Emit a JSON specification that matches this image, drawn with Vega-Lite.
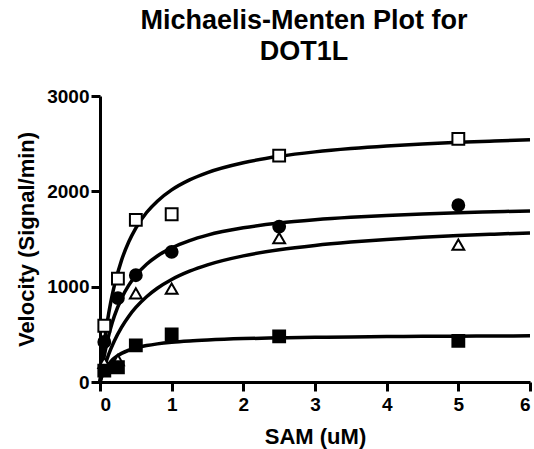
{
  "$schema": "https://vega.github.io/schema/vega-lite/v6.json",
  "width": 430,
  "height": 286,
  "autosize": {"type": "none"},
  "padding": {"left": 100, "top": 96, "right": 4, "bottom": 67},
  "background": "white",
  "title": {
    "text": ["Michaelis-Menten Plot for", "DOT1L"],
    "font": "Liberation Sans",
    "fontWeight": "bold",
    "fontSize": 27,
    "lineHeight": 31,
    "color": "black",
    "anchor": "middle",
    "offset": 21,
    "dx": -11
  },
  "config": {
    "view": {"stroke": null},
    "axis": {
      "grid": false,
      "domainColor": "black",
      "domainWidth": 3,
      "tickColor": "black",
      "tickWidth": 3,
      "tickSize": 9,
      "labelFont": "Liberation Sans",
      "labelFontWeight": "bold",
      "labelFontSize": 19,
      "labelColor": "black",
      "titleFont": "Liberation Sans",
      "titleFontWeight": "bold",
      "titleFontSize": 22,
      "titleColor": "black"
    }
  },
  "datasets": {
    "curves": [
      {"s": "A", "x": 0, "v": 0}, {"s": "A", "x": 0.02, "v": 153}, {"s": "A", "x": 0.05, "v": 353}, {"s": "A", "x": 0.1, "v": 623}, {"s": "A", "x": 0.15, "v": 838}, {"s": "A", "x": 0.2, "v": 1011}, {"s": "A", "x": 0.3, "v": 1276}, {"s": "A", "x": 0.4, "v": 1468}, {"s": "A", "x": 0.5, "v": 1614}, {"s": "A", "x": 0.65, "v": 1778}, {"s": "A", "x": 0.8, "v": 1897}, {"s": "A", "x": 1, "v": 2015}, {"s": "A", "x": 1.25, "v": 2120}, {"s": "A", "x": 1.5, "v": 2197}, {"s": "A", "x": 2, "v": 2300}, {"s": "A", "x": 2.5, "v": 2367}, {"s": "A", "x": 3, "v": 2414}, {"s": "A", "x": 3.5, "v": 2449}, {"s": "A", "x": 4, "v": 2476}, {"s": "A", "x": 4.5, "v": 2497}, {"s": "A", "x": 5, "v": 2514}, {"s": "A", "x": 5.5, "v": 2528}, {"s": "A", "x": 6, "v": 2540},
      {"s": "B", "x": 0, "v": 0}, {"s": "B", "x": 0.02, "v": 103}, {"s": "B", "x": 0.05, "v": 238}, {"s": "B", "x": 0.1, "v": 422}, {"s": "B", "x": 0.15, "v": 570}, {"s": "B", "x": 0.2, "v": 691}, {"s": "B", "x": 0.3, "v": 877}, {"s": "B", "x": 0.4, "v": 1013}, {"s": "B", "x": 0.5, "v": 1118}, {"s": "B", "x": 0.65, "v": 1235}, {"s": "B", "x": 0.8, "v": 1322}, {"s": "B", "x": 1, "v": 1407}, {"s": "B", "x": 1.25, "v": 1484}, {"s": "B", "x": 1.5, "v": 1541}, {"s": "B", "x": 2, "v": 1617}, {"s": "B", "x": 2.5, "v": 1667}, {"s": "B", "x": 3, "v": 1701}, {"s": "B", "x": 3.5, "v": 1727}, {"s": "B", "x": 4, "v": 1747}, {"s": "B", "x": 4.5, "v": 1763}, {"s": "B", "x": 5, "v": 1776}, {"s": "B", "x": 5.5, "v": 1786}, {"s": "B", "x": 6, "v": 1795},
      {"s": "C", "x": 0, "v": 0}, {"s": "C", "x": 0.02, "v": 55}, {"s": "C", "x": 0.05, "v": 132}, {"s": "C", "x": 0.1, "v": 246}, {"s": "C", "x": 0.15, "v": 344}, {"s": "C", "x": 0.2, "v": 430}, {"s": "C", "x": 0.3, "v": 573}, {"s": "C", "x": 0.4, "v": 688}, {"s": "C", "x": 0.5, "v": 782}, {"s": "C", "x": 0.65, "v": 894}, {"s": "C", "x": 0.8, "v": 983}, {"s": "C", "x": 1, "v": 1075}, {"s": "C", "x": 1.25, "v": 1162}, {"s": "C", "x": 1.5, "v": 1229}, {"s": "C", "x": 2, "v": 1323}, {"s": "C", "x": 2.5, "v": 1387}, {"s": "C", "x": 3, "v": 1433}, {"s": "C", "x": 3.5, "v": 1468}, {"s": "C", "x": 4, "v": 1496}, {"s": "C", "x": 4.5, "v": 1518}, {"s": "C", "x": 5, "v": 1536}, {"s": "C", "x": 5.5, "v": 1551}, {"s": "C", "x": 6, "v": 1564},
      {"s": "D", "x": 0, "v": 0}, {"s": "D", "x": 0.02, "v": 45}, {"s": "D", "x": 0.05, "v": 100}, {"s": "D", "x": 0.1, "v": 167}, {"s": "D", "x": 0.15, "v": 214}, {"s": "D", "x": 0.2, "v": 250}, {"s": "D", "x": 0.3, "v": 300}, {"s": "D", "x": 0.4, "v": 333}, {"s": "D", "x": 0.5, "v": 357}, {"s": "D", "x": 0.65, "v": 382}, {"s": "D", "x": 0.8, "v": 400}, {"s": "D", "x": 1, "v": 417}, {"s": "D", "x": 1.25, "v": 431}, {"s": "D", "x": 1.5, "v": 441}, {"s": "D", "x": 2, "v": 455}, {"s": "D", "x": 2.5, "v": 463}, {"s": "D", "x": 3, "v": 469}, {"s": "D", "x": 3.5, "v": 473}, {"s": "D", "x": 4, "v": 476}, {"s": "D", "x": 4.5, "v": 479}, {"s": "D", "x": 5, "v": 481}, {"s": "D", "x": 5.5, "v": 482}, {"s": "D", "x": 6, "v": 484}
    ],
    "points": [
      {"s": "A", "x": 0.06, "v": 590}, {"s": "A", "x": 0.25, "v": 1085}, {"s": "A", "x": 0.5, "v": 1700}, {"s": "A", "x": 1, "v": 1760}, {"s": "A", "x": 2.5, "v": 2375}, {"s": "A", "x": 5, "v": 2550},
      {"s": "B", "x": 0.06, "v": 420}, {"s": "B", "x": 0.25, "v": 880}, {"s": "B", "x": 0.5, "v": 1120}, {"s": "B", "x": 1, "v": 1365}, {"s": "B", "x": 2.5, "v": 1630}, {"s": "B", "x": 5, "v": 1855},
      {"s": "C", "x": 0.06, "v": 200}, {"s": "C", "x": 0.25, "v": 230}, {"s": "C", "x": 0.5, "v": 930}, {"s": "C", "x": 1, "v": 980}, {"s": "C", "x": 2.5, "v": 1510}, {"s": "C", "x": 5, "v": 1440},
      {"s": "D", "x": 0.06, "v": 120}, {"s": "D", "x": 0.25, "v": 155}, {"s": "D", "x": 0.5, "v": 385}, {"s": "D", "x": 1, "v": 500}, {"s": "D", "x": 2.5, "v": 478}, {"s": "D", "x": 5, "v": 432}
    ]
  },
  "encoding": {
    "x": {
      "field": "x", "type": "quantitative",
      "scale": {"domain": [0, 6], "nice": false, "zero": true},
      "axis": {"values": [0, 1, 2, 3, 4, 5, 6], "format": "d", "title": "SAM (uM)", "labelPadding": 4, "titlePadding": 12}
    },
    "y": {
      "field": "v", "type": "quantitative",
      "scale": {"domain": [0, 3000], "nice": false},
      "axis": {"values": [0, 1000, 2000, 3000], "format": "d", "title": "Velocity (Signal/min)", "labelPadding": 2, "titlePadding": 8}
    }
  },
  "layer": [
    {
      "data": {"name": "curves"},
      "mark": {"type": "line", "color": "black", "strokeWidth": 3.5, "interpolate": "monotone"},
      "encoding": {"detail": {"field": "s"}}
    },
    {
      "data": {"name": "points"},
      "mark": {"type": "point", "filled": true, "opacity": 1, "stroke": "black", "strokeWidth": 2, "size": 140},
      "encoding": {
        "shape": {"field": "s", "type": "nominal", "scale": {"domain": ["A", "B", "C", "D"], "range": ["square", "circle", "triangle-up", "square"]}, "legend": null},
        "fill": {"field": "s", "type": "nominal", "scale": {"domain": ["A", "B", "C", "D"], "range": ["white", "black", "white", "black"]}, "legend": null}
      }
    }
  ]
}
